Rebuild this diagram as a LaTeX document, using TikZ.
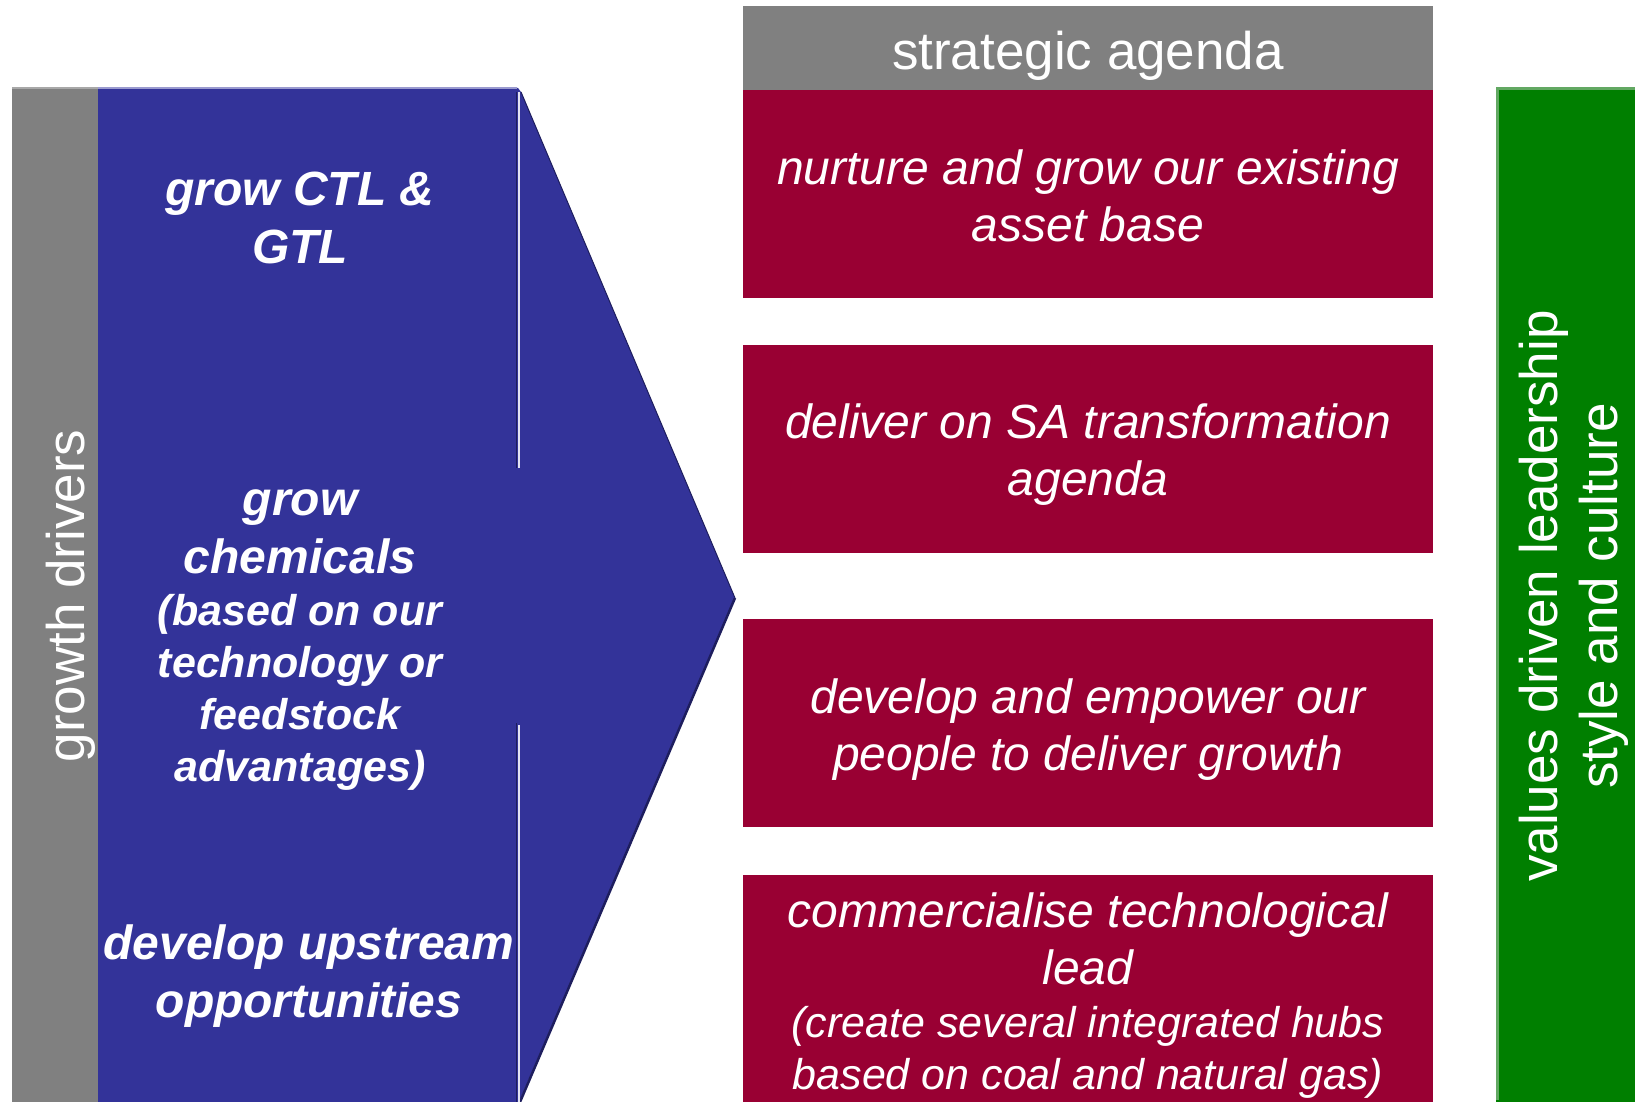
\documentclass[tikz,border=0pt]{standalone}
\usepackage{fontspec}
\setmainfont{Liberation Sans}
\definecolor{barGray}{HTML}{808080}
\definecolor{barGrayLight}{HTML}{A8A8A8}
\definecolor{driveBlue}{HTML}{333399}
\definecolor{blueEdge}{HTML}{9A9ACF}
\definecolor{blueShade}{HTML}{1E1E5E}
\definecolor{dividerLight}{HTML}{E4E4F2}
\definecolor{agendaRed}{HTML}{990033}
\definecolor{valueGreen}{HTML}{007F00}
\definecolor{greenEdge}{HTML}{62A862}
\tikzset{
  lbl/.style={text=white, inner sep=0pt, outer sep=0pt, align=center},
  plaintxt/.style={lbl, font=\fontsize{53}{60}\selectfont},
  aimtxt/.style={lbl, font=\itshape\fontsize{48}{57}\selectfont},
  aimnote/.style={lbl, font=\itshape\fontsize{43}{52}\selectfont},
  drvtxt/.style={lbl, font=\bfseries\itshape\fontsize{48}{58}\selectfont},
  drvnote/.style={lbl, font=\bfseries\itshape\fontsize{43}{52}\selectfont},
}
\begin{document}
\begin{tikzpicture}[x=1pt,y=-1pt]
\useasboundingbox (0,0) rectangle (1635,1102);

% ---- growth drivers column ----
\fill[barGray] (12,87) rectangle (98,1102);
\draw[barGrayLight, line width=2] (12,88) -- (98,88);
\fill[driveBlue] (98,88) -- (518,88) -- (521,92) -- (735,598) -- (519,1102) -- (98,1102) -- cycle;
\draw[blueEdge, line width=2] (98,88) -- (517,88);
\draw[blueShade, line width=1] (521,92) -- (735,598);
\draw[blueShade, line width=2.5] (735,598) -- (520,1102);
% divider segments
\draw[blueShade, line width=1.5] (516.5,92) -- (516.5,468);
\draw[dividerLight, line width=2.5] (519,92) -- (519,468);
\draw[blueShade, line width=1.5] (516.5,723) -- (516.5,1102);
\draw[dividerLight, line width=2.5] (519,725) -- (519,1102);

\node[plaintxt, rotate=90, anchor=base] (drvTitle) at (84,596) {growth drivers};
\node[drvtxt] (drvA) at (300,218) {grow CTL \&\\GTL};
\node[drvtxt] (drvB) at (300,532) {grow\\chemicals};
\node[drvnote] (drvC) at (300,692) {(based on our\\technology or\\feedstock\\advantages)};
\node[drvtxt] (drvD) at (309,976) {develop upstream\\opportunities};

% ---- strategic agenda column ----
\fill[barGray] (743,6) rectangle (1433,90);
\fill[agendaRed] (743,90) rectangle (1433,298);
\fill[agendaRed] (743,345) rectangle (1433,553);
\fill[agendaRed] (743,619) rectangle (1433,827);
\fill[agendaRed] (743,875) rectangle (1433,1102);

\node[plaintxt, anchor=base] (hdrText) at (1088,70) {strategic agenda};
\node[aimtxt] (aimA) at (1088,196) {nurture and grow our existing\\asset base};
\node[aimtxt] (aimB) at (1088,455) {deliver on SA transformation\\agenda};
\node[aimtxt] (aimC) at (1088,730) {develop and empower our\\people to deliver growth};
\node[aimtxt] (aimD) at (1088,939) {commercialise technological\\lead};
\node[aimnote] (aimDnote) at (1088,1052) {(create several integrated hubs\\based on coal and natural gas)};

% ---- values column ----
\fill[valueGreen] (1496,87) rectangle (1640,1102);
\draw[greenEdge, line width=3] (1497.5,1100) -- (1497.5,88.5) -- (1640,88.5);
\node[plaintxt, rotate=90] (valuesText) at (1574,596) {values driven leadership\\style and culture};
\end{tikzpicture}
\end{document}
